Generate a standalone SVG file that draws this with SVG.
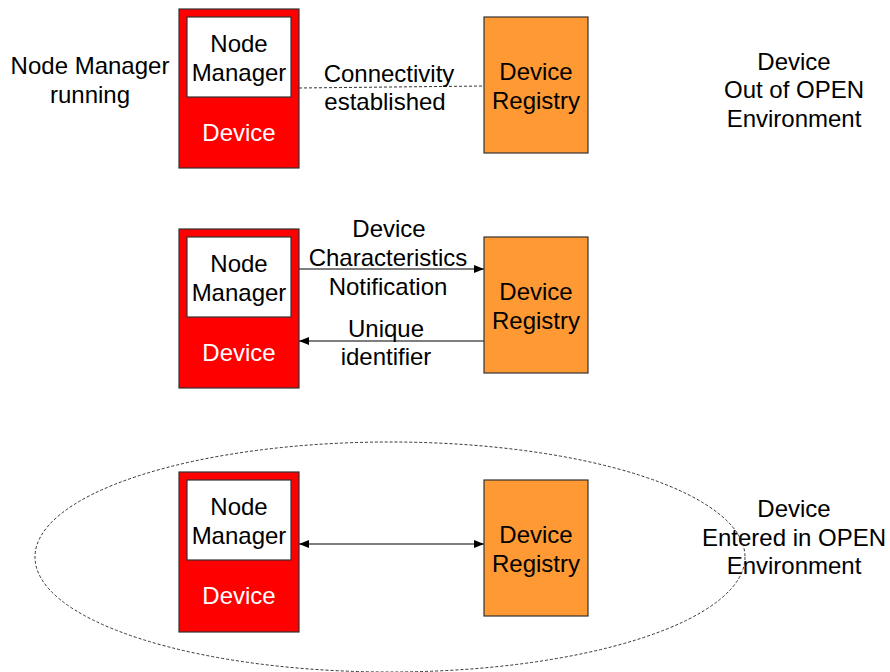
<svg xmlns="http://www.w3.org/2000/svg" width="890" height="672" viewBox="0 0 890 672">
  <style>
    text { font-family: "Liberation Sans", Arial, sans-serif; font-size: 24px; text-anchor: middle; fill: #000; }
    .dev { fill: #ff0000; stroke: #333; stroke-width: 1.2; }
    .nm { fill: #fff; stroke: #333; stroke-width: 1.2; }
    .reg { fill: #ff9933; stroke: #333; stroke-width: 1.2; }
    .white { fill: #fff; }
    .link { stroke: #000; stroke-width: 1.2; fill: none; }
    .dash { stroke: #333; stroke-width: 1; stroke-dasharray: 3 2; fill: none; }
  </style>
  <defs>
    <marker id="arr" viewBox="0 0 10 10" refX="10" refY="5" markerWidth="10" markerHeight="10" markerUnits="userSpaceOnUse" orient="auto-start-reverse">
      <path d="M0,1 L10,5 L0,9 Z" fill="#000"/>
    </marker>
  </defs>

  <!-- free-standing captions -->
  <g id="captions">
    <text x="90" y="74">Node Manager</text>
    <text x="90" y="103">running</text>
    <text x="794" y="70">Device</text>
    <text x="794" y="98">Out of OPEN</text>
    <text x="794" y="127">Environment</text>
    <text x="794" y="517">Device</text>
    <text x="794" y="546">Entered in OPEN</text>
    <text x="794" y="574">Environment</text>
  </g>

  <!-- environment boundary -->
  <ellipse id="open-env" cx="390" cy="557" rx="355" ry="115" class="dash"/>

  <!-- connectors -->
  <g id="connectors">
    <line x1="299" y1="88" x2="484" y2="86" class="dash"/>
    <line x1="299" y1="269" x2="484" y2="269" class="link" marker-end="url(#arr)"/>
    <line x1="484" y1="341" x2="299" y2="341" class="link" marker-end="url(#arr)"/>
    <line x1="299" y1="544" x2="484" y2="544" class="link" marker-start="url(#arr)" marker-end="url(#arr)"/>
    <text x="389" y="82">Connectivity</text>
    <text x="385" y="110">established</text>
    <text x="389" y="237">Device</text>
    <text x="388" y="266">Characteristics</text>
    <text x="388" y="295">Notification</text>
    <text x="386" y="337">Unique</text>
    <text x="386" y="365">identifier</text>
  </g>

  <!-- stage 1 -->
  <g id="device1">
    <rect x="179" y="9" width="120" height="159" class="dev"/>
    <rect x="187" y="17" width="104" height="80" class="nm"/>
    <text x="239" y="52">Node</text>
    <text x="239" y="81">Manager</text>
    <text x="239" y="141" class="white">Device</text>
  </g>
  <g id="registry1">
    <rect x="484" y="17" width="104" height="136" class="reg"/>
    <text x="536" y="80">Device</text>
    <text x="536" y="109">Registry</text>
  </g>

  <!-- stage 2 -->
  <g id="device2">
    <rect x="179" y="229" width="120" height="159" class="dev"/>
    <rect x="187" y="237" width="104" height="80" class="nm"/>
    <text x="239" y="272">Node</text>
    <text x="239" y="301">Manager</text>
    <text x="239" y="361" class="white">Device</text>
  </g>
  <g id="registry2">
    <rect x="484" y="237" width="104" height="136" class="reg"/>
    <text x="536" y="300">Device</text>
    <text x="536" y="329">Registry</text>
  </g>

  <!-- stage 3 -->
  <g id="device3">
    <rect x="179" y="472" width="120" height="160" class="dev"/>
    <rect x="187" y="480" width="104" height="80" class="nm"/>
    <text x="239" y="515">Node</text>
    <text x="239" y="544">Manager</text>
    <text x="239" y="604" class="white">Device</text>
  </g>
  <g id="registry3">
    <rect x="484" y="480" width="104" height="136" class="reg"/>
    <text x="536" y="543">Device</text>
    <text x="536" y="572">Registry</text>
  </g>
</svg>
